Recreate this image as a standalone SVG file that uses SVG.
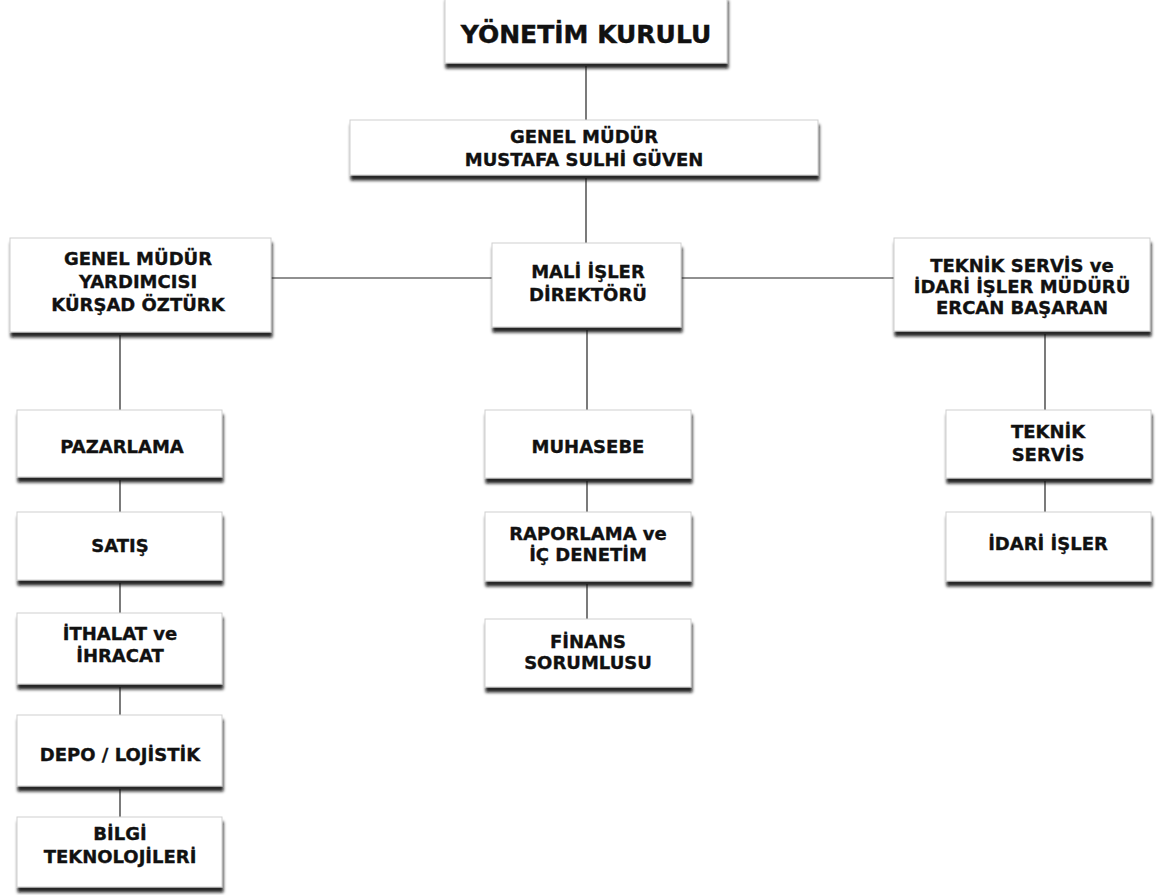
<svg xmlns="http://www.w3.org/2000/svg" width="1156" height="895" viewBox="0 0 1156 895">
<defs>
<filter id="sh" x="-5%" y="-10%" width="110%" height="135%">
<feDropShadow dx="1" dy="5" stdDeviation="1.5" flood-color="#111111" flood-opacity="0.9"/>
</filter>
<style>
.box{fill:#ffffff;stroke:#cfcfcf;stroke-width:1;filter:url(#sh)}
.t{font-family:"DejaVu Sans","Verdana",sans-serif;font-weight:bold;font-size:18px;fill:#111111;stroke:#111111;stroke-width:0.35;text-anchor:middle}
.big{font-size:25px;stroke-width:0.45}
.c{stroke:#222222;stroke-width:1.2;fill:none}
</style>
</defs>
<rect width="1156" height="895" fill="#ffffff"/>
<g id="connectors">
<line class="c" x1="586" y1="66" x2="586" y2="120"/>
<line class="c" x1="586" y1="178" x2="586" y2="243"/>
<line class="c" x1="271" y1="278" x2="492" y2="278"/>
<line class="c" x1="681" y1="278" x2="894" y2="278"/>
<line class="c" x1="120" y1="335" x2="120" y2="410"/>
<line class="c" x1="120" y1="480" x2="120" y2="512"/>
<line class="c" x1="120" y1="583" x2="120" y2="613"/>
<line class="c" x1="120" y1="687" x2="120" y2="715"/>
<line class="c" x1="120" y1="789" x2="120" y2="817"/>
<line class="c" x1="587" y1="330" x2="587" y2="410"/>
<line class="c" x1="587" y1="481" x2="587" y2="512"/>
<line class="c" x1="587" y1="584" x2="587" y2="619"/>
<line class="c" x1="1045" y1="334" x2="1045" y2="410"/>
<line class="c" x1="1045" y1="481" x2="1045" y2="512"/>
</g>
<g id="yonetim-kurulu"><rect class="box" x="445" y="-4" width="282" height="67"/><text class="t big" x="586" y="43">YÖNETİM KURULU</text></g>
<g id="genel-mudur"><rect class="box" x="350" y="120" width="468" height="55"/><text class="t" x="584" y="143">GENEL MÜDÜR</text><text class="t" x="584" y="166">MUSTAFA SULHİ GÜVEN</text></g>
<g id="gmy"><rect class="box" x="10" y="238" width="261" height="94"/><text class="t" x="138" y="265">GENEL MÜDÜR</text><text class="t" x="138" y="288">YARDIMCISI</text><text class="t" x="138" y="311">KÜRŞAD ÖZTÜRK</text></g>
<g id="mali-isler"><rect class="box" x="492" y="243" width="189" height="84"/><text class="t" x="588" y="278">MALİ İŞLER</text><text class="t" x="588" y="301">DİREKTÖRÜ</text></g>
<g id="teknik-idari-mudur"><rect class="box" x="894" y="238" width="256" height="93"/><text class="t" x="1022" y="272">TEKNİK SERVİS ve</text><text class="t" x="1022" y="293">İDARİ İŞLER MÜDÜRÜ</text><text class="t" x="1022" y="314">ERCAN BAŞARAN</text></g>
<g id="pazarlama"><rect class="box" x="17" y="410" width="205" height="67"/><text class="t" x="122" y="453">PAZARLAMA</text></g>
<g id="satis"><rect class="box" x="17" y="512" width="205" height="68"/><text class="t" x="120" y="552">SATIŞ</text></g>
<g id="ithalat"><rect class="box" x="17" y="613" width="205" height="71"/><text class="t" x="120" y="640">İTHALAT ve</text><text class="t" x="120" y="662">İHRACAT</text></g>
<g id="depo"><rect class="box" x="17" y="715" width="205" height="71"/><text class="t" x="120" y="761">DEPO / LOJİSTİK</text></g>
<g id="bilgi"><rect class="box" x="17" y="817" width="205" height="70"/><text class="t" x="120" y="840">BİLGİ</text><text class="t" x="120" y="863">TEKNOLOJİLERİ</text></g>
<g id="muhasebe"><rect class="box" x="485" y="410" width="206" height="68"/><text class="t" x="588" y="453">MUHASEBE</text></g>
<g id="raporlama"><rect class="box" x="485" y="512" width="206" height="69"/><text class="t" x="588" y="540">RAPORLAMA ve</text><text class="t" x="588" y="561">İÇ DENETİM</text></g>
<g id="finans"><rect class="box" x="485" y="619" width="206" height="68"/><text class="t" x="588" y="648">FİNANS</text><text class="t" x="588" y="669">SORUMLUSU</text></g>
<g id="teknik-servis"><rect class="box" x="946" y="410" width="205" height="68"/><text class="t" x="1048" y="438">TEKNİK</text><text class="t" x="1048" y="461">SERVİS</text></g>
<g id="idari-isler"><rect class="box" x="946" y="512" width="205" height="69"/><text class="t" x="1048" y="550">İDARİ İŞLER</text></g>
</svg>
